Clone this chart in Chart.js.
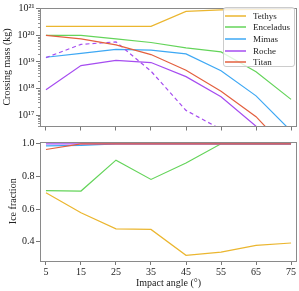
<!DOCTYPE html>
<html lang="en">
<head>
<meta charset="UTF-8">
<title>Crossing mass and ice fraction</title>
<script src="https://cdn.jsdelivr.net/npm/chart.js"></script>
<style>
  body { margin: 0; background: #fff; }
  #wrap { position: relative; width: 299px; height: 291px; }
  canvas { position: absolute; left: 0; }
  #legend {
    position: absolute; left: 223px; top: 7px; width: 72px; height: 60px;
    border: 1px solid #ccc; border-radius: 3px; background: rgba(255,255,255,0.8);
    font: 9px "Liberation Serif", "DejaVu Serif", serif; color: #222;
    padding-top: 2px; box-sizing: border-box;
  }
  .row { height: 11.6px; display: flex; align-items: center; }
  .swatch { width: 21px; height: 2px; margin-left: 1px; margin-right: 7px; opacity: 0.75; }
</style>
</head>
<body>
<div id="wrap">
  <canvas id="massChart" width="299" height="134" style="top:0"></canvas>
  <canvas id="iceChart" width="299" height="157" style="top:134px"></canvas>
  <div id="legend"></div>
</div>
<script>
// impact angles (deg)
const angles = [5, 15, 25, 35, 45, 55, 65, 75];
const moons = ['Tethys', 'Enceladus', 'Mimas', 'Roche', 'Titan'];
const colors = ['#ebb62f', '#64d45a', '#3ea8f4', '#a64df0', '#e3603f'];

// crossing mass (kg)
const massTethys    = [2.2e20, 2.2e20, 2.2e20, 2.2e20, 8e20, 9.2e20, 9.6e20, 1e21];
const massEnceladus = [1.0e20, 1.0e20, 7.4e19, 5.4e19, 3.4e19, 2.4e19, 4.3e18, 3.9e17];
const massMimas     = [1.5e19, 2.1e19, 3.0e19, 2.8e19, 2.0e19, 4.7e18, 5.3e17, 2.5e16];
const massRoche     = [9e17, 7.3e18, 1.15e19, 9.5e18, 2.8e18, 4.9e17, 3.8e16, 5e15];
const massRocheAlt  = [1.45e19, 4.6e19, 5.7e19, 4.5e18, 1.5e17, 2.9e16, null, null];
const massTitan     = [1.0e20, 7.4e19, 4.4e19, 1.9e19, 4.9e18, 7.9e17, 8.7e16, 3.5e15];

// ice fraction
const iceTethys    = [0.70, 0.578, 0.48, 0.476, 0.318, 0.337, 0.379, 0.393];
const iceEnceladus = [0.714, 0.711, 0.90, 0.782, 0.882, 1.0, 1.0, 1.0];
const iceMimas     = [0.987, 0.99, 1, 1, 1, 1, 1, 1];
const iceRoche     = [1, 1, 1, 1, 1, 1, 1, 1];
const iceTitan     = [0.965, 1, 1, 1, 1, 1, 1, 1];

const massExps = [17, 18, 19, 20, 21];
const iceTicks = [0.4, 0.6, 0.8, 1.0];

Chart.defaults.font.family = '"Liberation Serif", "DejaVu Serif", serif';
Chart.defaults.font.size = 10;
Chart.defaults.color = '#222';

const sup = n => String(n).split('').map(c => '⁰¹²³⁴⁵⁶⁷⁸⁹'[+c]).join('');
const pts = arr => angles.map((a, i) => ({ x: a, y: arr[i] }));

function line(label, arr, color, order, dash) {
  return {
    label, data: pts(arr), borderColor: color, backgroundColor: color,
    borderWidth: 1.2, pointRadius: 0, tension: 0, order,
    borderDash: dash || []
  };
}

const frame = {
  id: 'frame',
  afterDraw(chart) {
    const a = chart.chartArea, ctx = chart.ctx;
    ctx.save();
    ctx.strokeStyle = '#8a8a8a';
    ctx.lineWidth = 1;
    ctx.strokeRect(Math.round(a.left) + 0.5, Math.round(a.top) + 0.5,
      Math.round(a.right - a.left) - 1, Math.round(a.bottom - a.top) - 1);
    ctx.restore();
  }
};

const minorTicks = {
  id: 'minorTicks',
  afterDraw(chart) {
    const y = chart.scales.y, ctx = chart.ctx, left = chart.chartArea.left;
    ctx.save();
    ctx.strokeStyle = '#777';
    ctx.lineWidth = 0.8;
    for (let e = 16; e <= 21; e++) {
      for (let m = 2; m <= 9; m++) {
        const v = m * Math.pow(10, e);
        if (v < y.min || v > y.max) continue;
        const py = Math.round(y.getPixelForValue(v)) + 0.5;
        ctx.beginPath(); ctx.moveTo(left, py); ctx.lineTo(left - 2, py); ctx.stroke();
      }
    }
    ctx.restore();
  }
};

function xAxis(showLabels, height) {
  return {
    type: 'linear', min: 3.3, max: 76.7,
    afterBuildTicks: s => { s.ticks = angles.map(v => ({ value: v })); },
    afterFit: s => { s.height = height; },
    border: { display: false },
    grid: { drawOnChartArea: false, drawTicks: true, tickLength: 4, color: '#777' },
    ticks: { display: showLabels, autoSkip: false, maxRotation: 0, padding: 1 },
    title: showLabels ? { display: true, text: 'Impact angle (°)', padding: { top: 0, bottom: 2 } } : { display: false }
  };
}

new Chart(document.getElementById('massChart'), {
  type: 'line',
  data: {
    datasets: [
      line('Tethys', massTethys, colors[0], 5),
      line('Enceladus', massEnceladus, colors[1], 4),
      line('Mimas', massMimas, colors[2], 3),
      line('Roche', massRoche, colors[3], 2),
      line('Roche (alt)', massRocheAlt, colors[3], 2, [4, 3]),
      line('Titan', massTitan, colors[4], 1)
    ]
  },
  options: {
    responsive: false, animation: false,
    layout: { padding: { top: 3, right: 2, left: 0, bottom: 0 } },
    plugins: { legend: { display: false }, tooltip: { enabled: false } },
    scales: {
      x: xAxis(false, 2),
      y: {
        type: 'logarithmic', min: Math.pow(10, 16.57), max: Math.pow(10, 21.05),
        afterBuildTicks: s => { s.ticks = massExps.map(e => ({ value: Math.pow(10, e) })); },
        afterFit: s => { s.width = 40; },
        border: { display: false },
        grid: { drawOnChartArea: false, drawTicks: true, tickLength: 4, color: '#777' },
        ticks: { padding: 1.5, callback: v => '10' + sup(Math.round(Math.log10(v))) },
        title: { display: true, text: 'Crossing mass (kg)', padding: { top: 1.3, bottom: 0 } }
      }
    }
  },
  plugins: [frame, minorTicks]
});

new Chart(document.getElementById('iceChart'), {
  type: 'line',
  data: {
    datasets: [
      line('Tethys', iceTethys, colors[0], 5),
      line('Enceladus', iceEnceladus, colors[1], 4),
      line('Mimas', iceMimas, colors[2], 3),
      line('Roche', iceRoche, colors[3], 2),
      line('Titan', iceTitan, colors[4], 1)
    ]
  },
  options: {
    responsive: false, animation: false,
    layout: { padding: { top: 0, right: 2, left: 0, bottom: 0 } },
    plugins: { legend: { display: false }, tooltip: { enabled: false } },
    scales: {
      x: xAxis(true, 30),
      y: {
        type: 'linear', min: 0.283, max: 1.014,
        afterBuildTicks: s => { s.ticks = iceTicks.map(v => ({ value: v })); },
        afterFit: s => { s.width = 40; },
        border: { display: false },
        grid: { drawOnChartArea: false, drawTicks: true, tickLength: 4, color: '#777' },
        ticks: { padding: 1.5, callback: v => v.toFixed(1) },
        title: { display: true, text: 'Ice fraction', padding: { top: 7, bottom: 0 } }
      }
    }
  },
  plugins: [frame]
});

// legend
const legend = document.getElementById('legend');
moons.forEach((m, i) => {
  const row = document.createElement('div');
  row.className = 'row';
  row.innerHTML = '<span class="swatch" style="background:' + colors[i] + '"></span>' + m;
  legend.appendChild(row);
});
</script>
</body>
</html>
